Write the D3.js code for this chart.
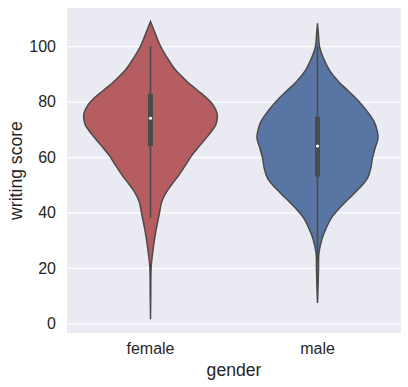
<!DOCTYPE html>
<html><head><meta charset="utf-8">
<script src="https://cdn.jsdelivr.net/npm/d3@7"></script>
<style>body{margin:0;background:#fff}text{font-family:Arial,"Liberation Sans",sans-serif;fill:#262626}</style>
</head><body><svg id="c" width="408" height="387"></svg>
<script>
const categories = ["female", "male"];
const colors = ["#b55d60", "#5975a4"];
const yTicks = [0, 20, 40, 60, 80, 100];
// violin outline: writing score and relative density
const femaleScore = [108.9,104.1,99.9,95.7,91.4,87.2,84.2,81.2,78.8,75.8,74.0,71.6,68.0,64.4,60.8,57.1,53.5,49.9,46.9,43.9,39.1,34.3,30.1,25,20.4,10,1.5];
const femaleDensity = [0,0.079,0.153,0.253,0.376,0.550,0.698,0.847,0.936,0.996,1.0,0.976,0.872,0.747,0.624,0.525,0.426,0.312,0.227,0.168,0.129,0.088,0.059,0.03,0.01,0.004,0];
const maleScore = [108.3,104,99.9,95.7,91.4,87.2,83.6,80,76.4,72.8,69.2,66.8,63.2,59.6,56,52.3,48.7,45.1,41.5,37.9,34.3,30.7,25.4,19.2,12,7.3];
const maleDensity = [0,0.015,0.030,0.089,0.178,0.316,0.475,0.624,0.747,0.847,0.896,0.906,0.862,0.822,0.798,0.747,0.624,0.475,0.327,0.204,0.129,0.070,0.022,0.015,0.007,0];
// box stats: [whiskerLow, q1, median, q3, whiskerHigh]
const femaleBox = [38, 64, 74, 82.8, 100];
const maleBox = [22, 53, 64, 74.5, 100];

const violins = [
  {name: categories[0], score: femaleScore, dens: femaleDensity, box: femaleBox, color: colors[0]},
  {name: categories[1], score: maleScore, dens: maleDensity, box: maleBox, color: colors[1]}
];

const svg = d3.select("#c");
const L = 67, R = 401, T = 8, B = 333;
const x = d3.scaleBand().domain(categories).range([L, R]);
const y = d3.scaleLinear().domain([-3.5, 113.8]).range([B, T]);
const w = d3.scaleLinear().domain([0, 1]).range([0, x.bandwidth() * 0.4]);

svg.append("rect").attr("x", L).attr("y", T).attr("width", R - L).attr("height", B - T).attr("fill", "#eaeaf2");

const yAxis = svg.append("g").attr("transform", `translate(${L},0)`).call(d3.axisLeft(y).tickValues(yTicks).tickSize(-(R - L)).tickPadding(11));
yAxis.select(".domain").remove();
yAxis.selectAll("line").attr("stroke", "#fff").attr("stroke-width", 1.25);
yAxis.selectAll("text").style("font-size", "16px").attr("fill", "#262626").style("font-family", "Arial, 'Liberation Sans', sans-serif");

const xAxis = svg.append("g").attr("transform", `translate(0,${B})`).call(d3.axisBottom(x).tickSize(0).tickPadding(10));
xAxis.select(".domain").remove();
xAxis.selectAll("text").style("font-size", "16px").attr("fill", "#262626").style("font-family", "Arial, 'Liberation Sans', sans-serif").attr("dy", "0.71em");

const outline = "#4a4a4a";
violins.forEach(v => {
  const cx = x(v.name) + x.bandwidth() / 2;
  const pts = v.score.map((s, i) => [s, v.dens[i]]);
  const area = d3.area()
    .y(d => y(d[0]))
    .x0(d => cx - w(d[1]))
    .x1(d => cx + w(d[1]))
    .curve(d3.curveCatmullRom);
  svg.append("path").datum(pts).attr("d", area).attr("fill", v.color).attr("stroke", outline).attr("stroke-width", 1.5);
  const b = v.box;
  svg.append("line").attr("x1", cx).attr("x2", cx).attr("y1", y(b[0])).attr("y2", y(b[4])).attr("stroke", outline).attr("stroke-width", 1.6);
  svg.append("line").attr("x1", cx).attr("x2", cx).attr("y1", y(b[1])).attr("y2", y(b[3])).attr("stroke", outline).attr("stroke-width", 5);
  svg.append("circle").attr("cx", cx).attr("cy", y(b[2])).attr("r", 1.6).attr("fill", "#fff");
});

svg.append("text").attr("x", (L + R) / 2).attr("y", 376).attr("text-anchor", "middle").style("font-size", "17.6px").text("gender");
svg.append("text").attr("transform", `translate(22,${(T + B) / 2}) rotate(-90)`).attr("text-anchor", "middle").style("font-size", "17.6px").text("writing score");
</script></body></html>
